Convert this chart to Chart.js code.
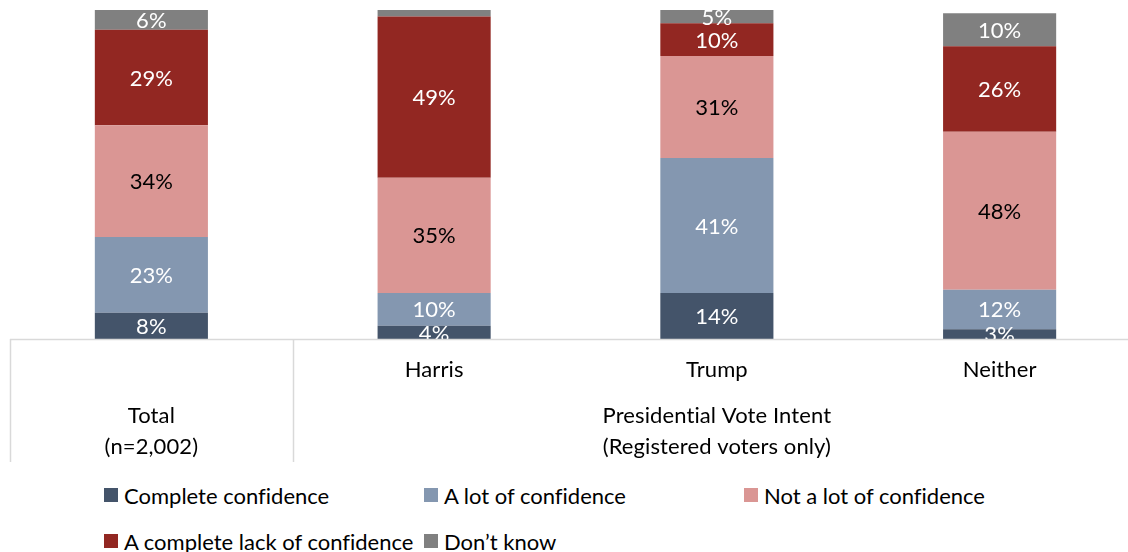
<!DOCTYPE html>
<html>
<head>
<meta charset="utf-8">
<script src="https://cdn.jsdelivr.net/npm/chart.js@4.4.1/dist/chart.umd.min.js"></script>
<style>
  html, body { margin: 0; padding: 0; background: #fff; width: 1128px; height: 552px; overflow: hidden; }
  #wrap { position: absolute; left: 0; top: 0; width: 1141px; height: 470px; }
  #legend {
    position: absolute; left: 104px; top: 483px;
    font-family: Lato, "Noto Sans", sans-serif; font-size: 22px; color: #000;
    font-variant-ligatures: none; font-feature-settings: "liga" 0, "clig" 0;
    display: grid; grid-template-columns: 320px 320px 320px; grid-auto-rows: 24px; row-gap: 22px;
  }
  .item { display: flex; align-items: center; white-space: nowrap; }
  .sw { width: 14px; height: 14px; margin-right: 6px; flex: none; }
</style>
</head>
<body>
<div id="wrap"><canvas id="c"></canvas></div>
<div id="legend"></div>
<script>
// Survey categories and group captions
const categories = ['Total', 'Harris', 'Trump', 'Neither'];
const groupCaptions = [
  { from: 0, to: 0, lines: ['Total', '(n=2,002)'] },
  { from: 1, to: 3, lines: ['Presidential Vote Intent', '(Registered voters only)'] }
];

// Share of respondents (%) per confidence level
const completeConfidence       = [8, 4, 14, 3];
const aLotOfConfidence         = [23, 10, 41, 12];
const notALotOfConfidence      = [34, 35, 31, 48];
const completeLackOfConfidence = [29, 49, 10, 26];
const dontKnow                 = [6, 2, 5, 10];

const seriesNames  = ['Complete confidence', 'A lot of confidence', 'Not a lot of confidence', 'A complete lack of confidence', 'Don\u2019t know'];
const seriesData   = [completeConfidence, aLotOfConfidence, notALotOfConfidence, completeLackOfConfidence, dontKnow];
const seriesColors = ['#44546a', '#8497b0', '#da9694', '#922722', '#808080'];
const labelColors  = ['#ffffff', '#ffffff', '#000000', '#ffffff', '#ffffff'];

const FONT = '22px Lato, "Noto Sans", sans-serif';

// Plain glyphs only (no ti / fi ligatures)
function setTextStyle(ctx) {
  ctx.font = FONT;
  if ('letterSpacing' in ctx) ctx.letterSpacing = '0.1px';
}

// Percentage labels inside each stacked segment
const segmentLabels = {
  id: 'segmentLabels',
  afterDatasetsDraw(chart) {
    const { ctx, chartArea } = chart;
    ctx.save();
    ctx.beginPath();
    ctx.rect(chartArea.left, chartArea.top, chartArea.right - chartArea.left, chartArea.bottom - chartArea.top);
    ctx.clip();
    setTextStyle(ctx);
    ctx.textAlign = 'center';
    ctx.textBaseline = 'middle';
    chart.data.datasets.forEach((ds, di) => {
      const meta = chart.getDatasetMeta(di);
      meta.data.forEach((el, i) => {
        const v = ds.data[i];
        if (v < 3) return;
        const y = (Math.max(el.y, chartArea.top) + el.base) / 2;
        ctx.fillStyle = labelColors[di];
        ctx.fillText(v + '%', el.x, y + 1);
      });
    });
    ctx.restore();
  }
};

// Two-level category table under the bars
const categoryTable = {
  id: 'categoryTable',
  afterDraw(chart) {
    const { ctx, chartArea } = chart;
    const x = chart.scales.x;
    const bottom = chartArea.bottom;
    const depth = 123;
    const half = (x.getPixelForValue(1) - x.getPixelForValue(0)) / 2;
    ctx.save();
    ctx.strokeStyle = '#d9d9d9';
    ctx.lineWidth = 1.5;
    ctx.beginPath();
    ctx.moveTo(chartArea.left, bottom + 0.5);
    ctx.lineTo(chartArea.right, bottom + 0.5);
    ctx.moveTo(chartArea.left + 0.5, bottom);
    ctx.lineTo(chartArea.left + 0.5, bottom + depth);
    const split = x.getPixelForValue(0) + half;
    ctx.moveTo(Math.round(split) + 0.5, bottom);
    ctx.lineTo(Math.round(split) + 0.5, bottom + depth);
    ctx.stroke();

    ctx.fillStyle = '#000';
    setTextStyle(ctx);
    ctx.textAlign = 'center';
    ctx.textBaseline = 'middle';
    categories.forEach((c, i) => {
      if (i === 0) return;
      ctx.fillText(c, x.getPixelForValue(i), bottom + 31);
    });
    groupCaptions.forEach(g => {
      const cx = (x.getPixelForValue(g.from) - half + x.getPixelForValue(g.to) + half) / 2;
      g.lines.forEach((t, k) => ctx.fillText(t, cx, bottom + 77 + k * 31));
    });
    ctx.restore();
  }
};

new Chart(document.getElementById('c'), {
  type: 'bar',
  data: {
    labels: categories,
    datasets: seriesNames.map((name, k) => ({
      label: name,
      data: seriesData[k],
      backgroundColor: seriesColors[k],
      borderWidth: 0,
      clip: 0,
      categoryPercentage: 1,
      barPercentage: 0.4
    }))
  },
  options: {
    responsive: true,
    maintainAspectRatio: false,
    animation: false,
    layout: { padding: { left: 10, right: 0, top: 10, bottom: 131 } },
    plugins: { legend: { display: false }, tooltip: { enabled: false } },
    scales: {
      x: { stacked: true, display: false },
      y: { stacked: true, display: false, min: 0, max: 100 }
    }
  },
  plugins: [segmentLabels, categoryTable]
});

// Legend
const legend = document.getElementById('legend');
seriesNames.forEach((name, k) => {
  const item = document.createElement('div');
  item.className = 'item';
  const sw = document.createElement('span');
  sw.className = 'sw';
  sw.style.background = seriesColors[k];
  item.appendChild(sw);
  item.appendChild(document.createTextNode(name));
  legend.appendChild(item);
});
</script>
</body>
</html>
